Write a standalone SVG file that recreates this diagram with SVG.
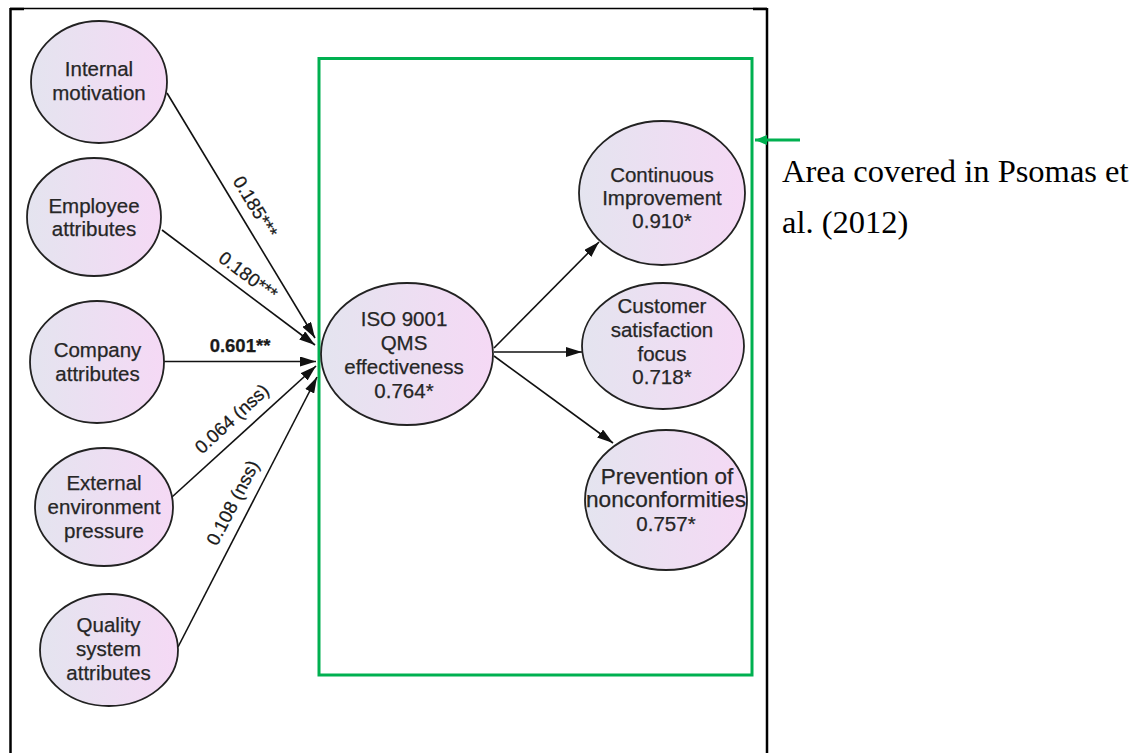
<svg xmlns="http://www.w3.org/2000/svg" width="1140" height="753" viewBox="0 0 1140 753">
  <defs>
    <linearGradient id="nodeFill" x1="0" y1="0" x2="1" y2="0">
      <stop offset="0" stop-color="#e4e4ef"/>
      <stop offset="1" stop-color="#f5d9f5"/>
    </linearGradient>
    <marker id="arrowBlack" markerUnits="userSpaceOnUse" markerWidth="16" markerHeight="10" refX="16" refY="5" orient="auto">
      <path d="M0,0 L16,5 L0,10 z" fill="#111"/>
    </marker>
    <marker id="arrowGreen" markerUnits="userSpaceOnUse" markerWidth="12" markerHeight="10" refX="12" refY="5" orient="auto">
      <path d="M0,0 L12,5 L0,10 z" fill="#00b050"/>
    </marker>
  </defs>
  <style>
    .node ellipse { fill: url(#nodeFill); stroke: #222; stroke-width: 1.8; }
    .node text { font-family: "Liberation Sans", Arial, sans-serif; font-size: 20.5px; fill: #262626; stroke: #262626; stroke-width: 0.25; text-anchor: middle; }
    .edge { stroke: #111; stroke-width: 1.6; fill: none; marker-end: url(#arrowBlack); }
    .lbl { font-family: "Liberation Sans", Arial, sans-serif; font-size: 18.5px; fill: #1a1a1a; stroke: #1a1a1a; stroke-width: 0.25; text-anchor: middle; }
    .frame { stroke: #000; fill: none; }
    .note { font-family: "Liberation Serif", "Times New Roman", serif; font-size: 32.5px; fill: #000; }
  </style>

  <rect width="1140" height="753" fill="#fff"/>

  <!-- cell frame -->
  <g id="frame">
    <line class="frame" x1="10" y1="8.5" x2="767" y2="8.5" stroke-width="1.5"/>
    <line class="frame" x1="10" y1="9" x2="24" y2="9" stroke-width="2.5"/>
    <line class="frame" x1="753" y1="9" x2="767" y2="9" stroke-width="2.5"/>
    <line class="frame" x1="10.5" y1="8" x2="10.5" y2="753" stroke-width="2.5"/>
    <line class="frame" x1="767" y1="8" x2="767" y2="753" stroke-width="2.5"/>
  </g>

  <!-- highlighted area -->
  <g id="area">
    <rect x="319" y="58.5" width="433" height="616.5" fill="none" stroke="#00b050" stroke-width="3"/>
    <line x1="800" y1="140" x2="755" y2="140" stroke="#00b050" stroke-width="3" marker-end="url(#arrowGreen)"/>
    <text class="note" x="782" y="182">Area covered in Psomas et</text>
    <text class="note" x="782" y="233">al. (2012)</text>
  </g>

  <!-- connectors -->
  <g id="connectors">
    <line class="edge" x1="167" y1="93" x2="315" y2="338"/>
    <line class="edge" x1="162" y1="230" x2="315" y2="345"/>
    <line class="edge" x1="164" y1="361.5" x2="316" y2="361.5"/>
    <line class="edge" x1="172" y1="497" x2="316" y2="366"/>
    <line class="edge" x1="178" y1="647" x2="317" y2="377"/>
    <line class="edge" x1="494" y1="348" x2="599" y2="242"/>
    <line class="edge" x1="494" y1="352" x2="582" y2="352"/>
    <line class="edge" x1="494" y1="356" x2="613" y2="443"/>

    <text class="lbl" transform="translate(255,207) rotate(58.9)" y="6">0.185***</text>
    <text class="lbl" transform="translate(248,276) rotate(36.9)" y="6">0.180***</text>
    <text class="lbl" x="240" y="352" font-weight="bold">0.601**</text>
    <text class="lbl" transform="translate(232,419) rotate(-42.5)" y="6">0.064 (nss)</text>
    <text class="lbl" transform="translate(233,503) rotate(-62.7)" y="6">0.108 (nss)</text>
  </g>

  <!-- source constructs -->
  <g id="internal-motivation" class="node">
    <ellipse cx="99" cy="82" rx="68" ry="61"/>
    <text x="99" y="76">Internal</text>
    <text x="99" y="100">motivation</text>
  </g>
  <g id="employee-attributes" class="node">
    <ellipse cx="94" cy="217" rx="67" ry="59"/>
    <text x="94" y="213">Employee</text>
    <text x="94" y="236">attributes</text>
  </g>
  <g id="company-attributes" class="node">
    <ellipse cx="97" cy="362" rx="67" ry="61"/>
    <text x="97.5" y="357">Company</text>
    <text x="97.5" y="381">attributes</text>
  </g>
  <g id="external-environment-pressure" class="node">
    <ellipse cx="104" cy="507" rx="69" ry="59"/>
    <text x="104" y="490">External</text>
    <text x="104" y="513.5">environment</text>
    <text x="104" y="537.5">pressure</text>
  </g>
  <g id="quality-system-attributes" class="node">
    <ellipse cx="109" cy="650" rx="69" ry="56"/>
    <text x="108.5" y="632">Quality</text>
    <text x="108.5" y="655.5">system</text>
    <text x="108.5" y="680">attributes</text>
  </g>

  <!-- central construct -->
  <g id="iso-9001-qms-effectiveness" class="node">
    <ellipse cx="407" cy="354" rx="86" ry="71"/>
    <text x="404" y="326">ISO 9001</text>
    <text x="404" y="350">QMS</text>
    <text x="404" y="374">effectiveness</text>
    <text x="404" y="398">0.764*</text>
  </g>

  <!-- outcome constructs -->
  <g id="continuous-improvement" class="node">
    <ellipse cx="662" cy="193" rx="83" ry="72"/>
    <text x="662" y="182">Continuous</text>
    <text x="662" y="205">Improvement</text>
    <text x="662" y="228">0.910*</text>
  </g>
  <g id="customer-satisfaction-focus" class="node">
    <ellipse cx="663" cy="346" rx="81" ry="63"/>
    <text x="662" y="313">Customer</text>
    <text x="662" y="337">satisfaction</text>
    <text x="662" y="361">focus</text>
    <text x="662" y="384">0.718*</text>
  </g>
  <g id="prevention-of-nonconformities" class="node">
    <ellipse cx="666" cy="500" rx="81" ry="70"/>
    <text x="667" y="484" style="font-size:22.5px">Prevention of</text>
    <text x="666" y="507" style="font-size:22.5px" textLength="160" lengthAdjust="spacingAndGlyphs">nonconformities</text>
    <text x="666" y="531">0.757*</text>
  </g>
</svg>
